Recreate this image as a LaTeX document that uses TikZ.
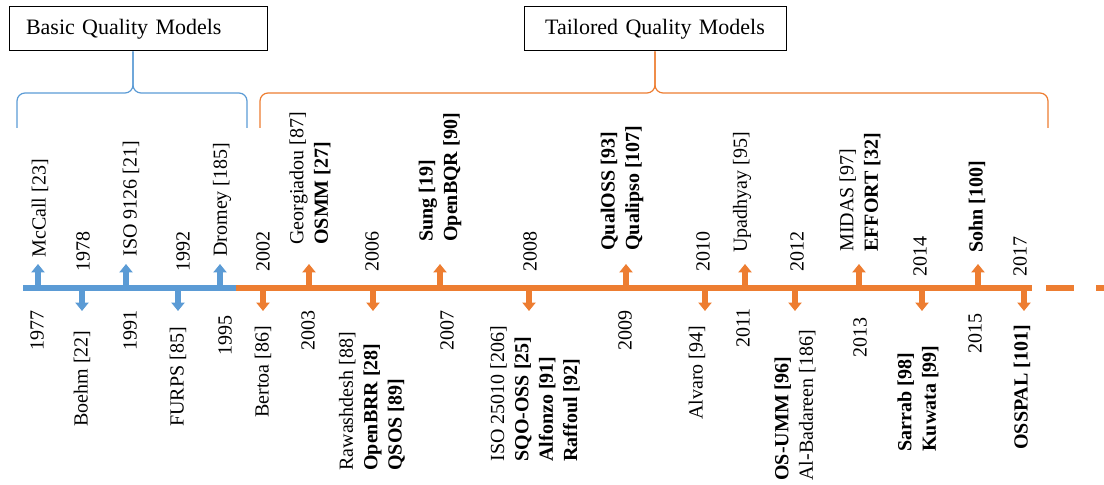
\documentclass[tikz,border=0pt]{standalone}
\usepackage{fontspec}
\setmainfont{Liberation Serif}
\usetikzlibrary{arrows.meta}
\definecolor{tlblue}{HTML}{5B9BD5}
\definecolor{tlorange}{HTML}{ED7D31}
\begin{document}
\begin{tikzpicture}[x=0.5pt,y=-0.5pt,
	catbox/.style={draw,line width=0.5pt,minimum height=22pt,inner xsep=8.5pt,inner ysep=0pt,font=\fontsize{11}{13}\selectfont},
	brace/.style={line width=0.6pt,rounded corners=4pt},
	axis/.style={line width=3.25pt},
	tick/.style={line width=2.7pt,-{Triangle[width=6.5pt,length=4.2pt]}},
	lbl/.style={rotate=90,anchor=west,inner sep=0pt,align=left,font=\fontsize{10}{12.2}\selectfont},
	yrhi/.style={rotate=90,anchor=west,inner sep=0pt,font=\fontsize{10}{12}\selectfont},
	yrlo/.style={rotate=90,anchor=east,inner sep=0pt,font=\fontsize{10}{12}\selectfont}]
		\useasboundingbox (0,0) rectangle (1104,485);
		%%%
		\node[catbox,text width=112pt,align=left] (basic) at (138,29) {Basic Quality Models};
		\node[catbox,text width=114pt,align=center] (tailored) at (655,29) {Tailored Quality Models};
		\coordinate (btip) at (133,93);
		\coordinate (ttip) at (655,93);
		\draw[brace,tlblue] (17,128) -- (17,93) -- (btip) -- (btip |- basic.south);
		\draw[brace,tlblue] (247,128) -- (247,93) -- (btip) -- (btip |- basic.south);
		\draw[brace,tlorange] (260,128) -- (260,93) -- (ttip) -- (ttip |- tailored.south);
		\draw[brace,tlorange] (1048,128) -- (1048,93) -- (ttip) -- (ttip |- tailored.south);
		%%%
		\coordinate (start) at (23,288);
		\coordinate (split) at (236,288);
		\coordinate (stop) at (1032,288);
		\draw[axis,tlblue] (start) -- (split);
		\draw[axis,tlorange] (split) -- (stop);
		\draw[axis,tlorange,dash pattern=on 14pt off 11pt] (1046,288) -- (1104,288);
		%%%
		\coordinate (t1977) at (38,288);
		\coordinate (t1978) at (82,288);
		\coordinate (t1991) at (126,288);
		\coordinate (t1992) at (178,288);
		\coordinate (t1995) at (220,288);
		\draw[tick,tlblue] (t1977) -- ++(0,-24);
		\draw[tick,tlblue] (t1978) -- ++(0,23);
		\draw[tick,tlblue] (t1991) -- ++(0,-24);
		\draw[tick,tlblue] (t1992) -- ++(0,23);
		\draw[tick,tlblue] (t1995) -- ++(0,-24);
		%%%
		\coordinate (t2002) at (263,288);
		\coordinate (t2003) at (309,288);
		\coordinate (t2006) at (373,288);
		\coordinate (t2007) at (440,288);
		\coordinate (t2008) at (529,288);
		\coordinate (t2009) at (626,288);
		\coordinate (t2010) at (705,288);
		\coordinate (t2011) at (745,288);
		\coordinate (t2012) at (795,288);
		\coordinate (t2013) at (859,288);
		\coordinate (t2014) at (922,288);
		\coordinate (t2015) at (978,288);
		\coordinate (t2017) at (1024,288);
		\draw[tick,tlorange] (t2002) -- ++(0,23);
		\draw[tick,tlorange] (t2003) -- ++(0,-24);
		\draw[tick,tlorange] (t2006) -- ++(0,23);
		\draw[tick,tlorange] (t2007) -- ++(0,-24);
		\draw[tick,tlorange] (t2008) -- ++(0,23);
		\draw[tick,tlorange] (t2009) -- ++(0,-24);
		\draw[tick,tlorange] (t2010) -- ++(0,23);
		\draw[tick,tlorange] (t2011) -- ++(0,-24);
		\draw[tick,tlorange] (t2012) -- ++(0,23);
		\draw[tick,tlorange] (t2013) -- ++(0,-24);
		\draw[tick,tlorange] (t2014) -- ++(0,23);
		\draw[tick,tlorange] (t2015) -- ++(0,-24);
		\draw[tick,tlorange] (t2017) -- ++(0,23);
		%%%
		\node[lbl] (mccall) at (40,258) {McCall [23]};
		\node[lbl] (iso9126) at (131,257) {ISO 9126 [21]};
		\node[lbl] (dromey) at (222,257) {Dromey [185]};
		\node[lbl] (osmm) at (310,245) {Georgiadou [87]\\\textbf{OSMM [27]}};
		\node[lbl] (openbqr) at (440,242) {\textbf{Sung [19]}\\\textbf{OpenBQR [90]}};
		\node[lbl] (qualoss) at (622,251) {\textbf{QualOSS [93]}\\\textbf{Qualipso [107]}};
		\node[lbl] (upadhyay) at (742,253) {Upadhyay [95]};
		\node[lbl] (effort) at (860,252) {MIDAS [97]\\\textbf{EFFORT [32]}};
		\node[lbl] (sohn) at (977,253) {\textbf{Sohn [100]}};
		%%%
		\node[lbl] (boehm) at (82,427) {Boehm [22]};
		\node[lbl] (furps) at (178,427) {FURPS [85]};
		\node[lbl] (bertoa) at (263,418) {Bertoa [86]};
		\node[lbl] (openbrr) at (372,471) {Rawashdesh [88]\\\textbf{OpenBRR [28]}\\\textbf{QSOS [89]}};
		\node[lbl] (sqooss) at (535,462) {ISO 25010 [206]\\\textbf{SQO-OSS [25]}\\\textbf{Alfonzo [91]}\\\textbf{Raffoul [92]}};
		\node[lbl] (alvaro) at (697,420) {Alvaro [94]};
		\node[lbl] (osumm) at (795,481) {\textbf{OS-UMM [96]}\\Al-Badareen [186]};
		\node[lbl] (sarrab) at (918,452) {\textbf{Sarrab [98]}\\\textbf{Kuwata [99]}};
		\node[lbl] (osspal) at (1022,450) {\textbf{OSSPAL [101]}};
		%%%
		\node[yrlo] (y1977) at (37,310) {1977};
		\node[yrhi] (y1978) at (83,272) {1978};
		\node[yrlo] (y1991) at (130,310) {1991};
		\node[yrhi] (y1992) at (183,272) {1992};
		\node[yrlo] (y1995) at (225,315) {1995};
		\node[yrhi] (y2002) at (263,272) {2002};
		\node[yrlo] (y2003) at (308,310) {2003};
		\node[yrhi] (y2006) at (372,272) {2006};
		\node[yrlo] (y2007) at (447,310) {2007};
		\node[yrhi] (y2008) at (530,272) {2008};
		\node[yrlo] (y2009) at (625,310) {2009};
		\node[yrhi] (y2010) at (703,272) {2010};
		\node[yrlo] (y2011) at (743,308) {2011};
		\node[yrhi] (y2012) at (797,272) {2012};
		\node[yrlo] (y2013) at (860,317) {2013};
		\node[yrhi] (y2014) at (920,277) {2014};
		\node[yrlo] (y2015) at (975,313) {2015};
		\node[yrhi] (y2017) at (1020,277) {2017};
	\end{tikzpicture}
\end{document}
